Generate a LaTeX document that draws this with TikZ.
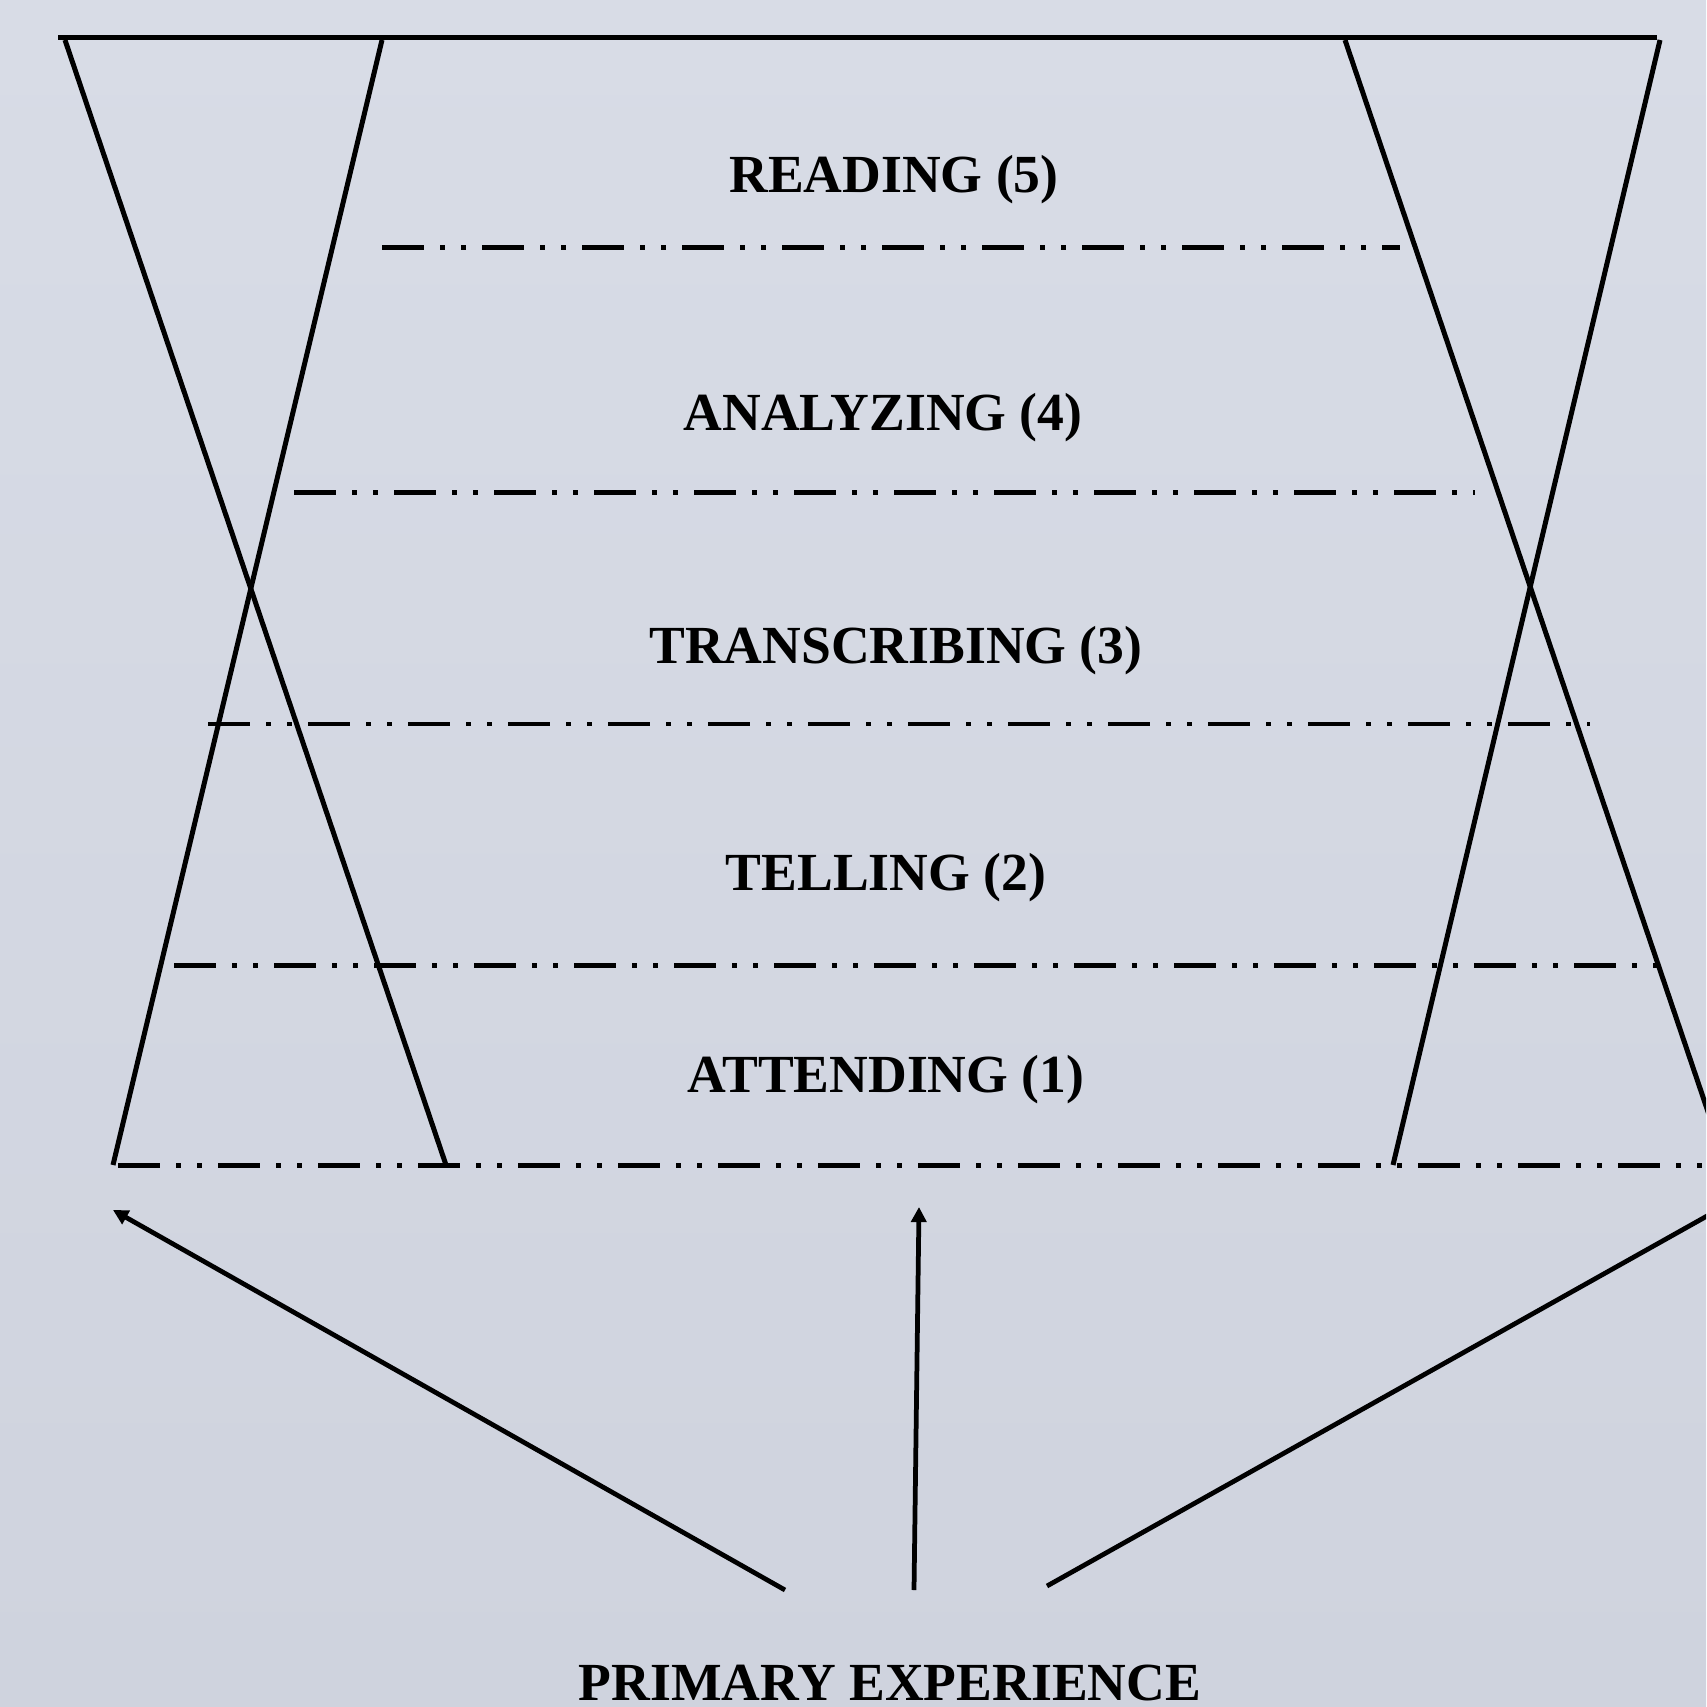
\documentclass[tikz,border=0pt]{standalone}
\usepackage{fontspec}
\setmainfont{Liberation Serif}
\usetikzlibrary{arrows.meta}
\definecolor{ink}{HTML}{000000}
\definecolor{bgtop}{HTML}{D8DCE6}
\definecolor{bgbot}{HTML}{CFD3DE}

\begin{document}
\begin{tikzpicture}[x=0.01cm,y=-0.01cm,
 stage/.style={anchor=base,font=\bfseries\fontsize{15.25}{18}\selectfont,text=ink,inner sep=0pt},
 frame/.style={draw=ink,line width=1.42pt},
 level/.style={draw=ink,line width=1.42pt,dash pattern=on 11.95pt off 4.55pt on 1.42pt off 4.55pt on 1.42pt off 4.55pt},
 feed/.style={draw=ink,line width=1.35pt,-{Triangle[length=4.3pt,width=4.3pt]}}]
\fill[top color=bgtop,bottom color=bgbot] (0,0) rectangle (1706,1707);
\useasboundingbox (0,0) rectangle (1706,1707);
\clip (0,0) rectangle (1706,1707);
% crossed sides of the funnel, right pair is the left pair moved over
\coordinate (la-top) at (65,40);
\coordinate (la-bot) at (446,1165);
\coordinate (lb-top) at (382,40);
\coordinate (lb-bot) at (113,1165);
\coordinate (ra-top) at (1345,40);
\coordinate (ra-bot) at (1726,1165);
\coordinate (rb-top) at (1660,40);
\coordinate (rb-bot) at (1393,1165);
\draw[frame] (58,38)--(1657,38);
\draw[frame] (la-top)--(la-bot);
\draw[frame] (lb-top)--(lb-bot);
\draw[frame] (ra-top)--(ra-bot);
\draw[frame] (rb-top)--(rb-bot);
% level separators
\draw[level] (382,248)--(1400,248);
\draw[level] (294,493)--(1475,493);
\draw[level] (208,724)--(1590,724);
\draw[level] (174,965)--(1658,965);
\draw[level] (118,1165)--(1720,1165);
% stage labels
\node[stage] (reading) at (894,193) {READING (5)};
\node[stage] (analyzing) at (883,431) {ANALYZING (4)};
\node[stage] (transcribing) at (896,663) {TRANSCRIBING (3)};
\node[stage] (telling) at (886,890) {TELLING (2)};
\node[stage] (attending) at (886,1092) {ATTENDING (1)};
\node[stage] (primary) at (890,1700) {PRIMARY EXPERIENCE};
% arrows up from primary experience
\coordinate (feed-l) at (785,1590);
\coordinate (feed-m) at (914,1590);
\coordinate (feed-r) at (1047,1586);
\coordinate (tip-l) at (113,1210);
\coordinate (tip-m) at (919,1207);
\coordinate (tip-r) at (1732,1202);
\draw[feed] (feed-l)--(tip-l);
\draw[feed] (feed-m)--(tip-m);
\draw[feed] (feed-r)--(tip-r);
\end{tikzpicture}
\end{document}
